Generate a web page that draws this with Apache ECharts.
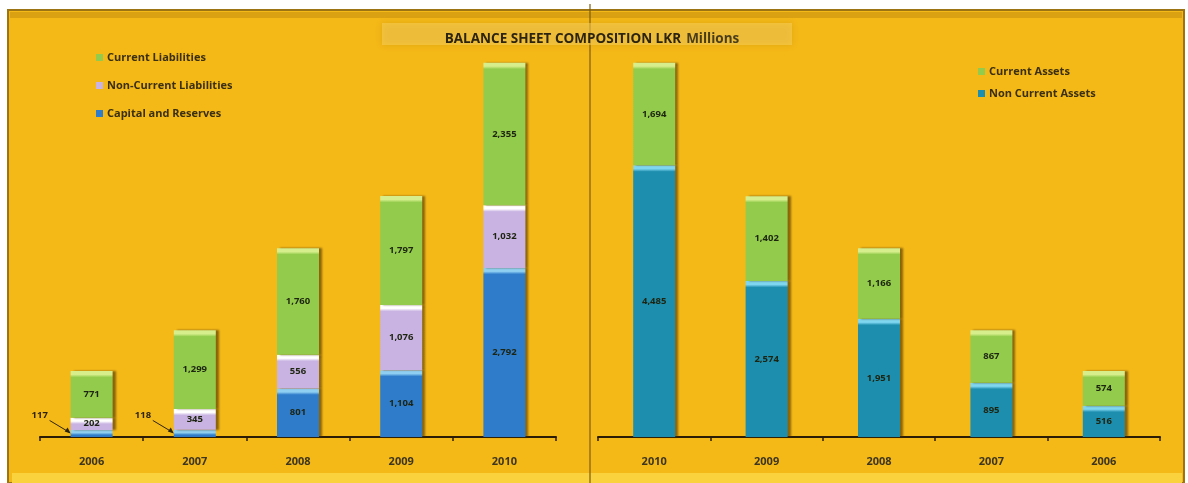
<!DOCTYPE html>
<html>
<head>
<meta charset="utf-8">
<script src="https://cdn.jsdelivr.net/npm/echarts@6/dist/echarts.min.js"></script>
<style>
  html, body { margin: 0; padding: 0; background: #ffffff; }
  #chart { width: 1188px; height: 483px; }
</style>
</head>
<body>
<div id="chart"></div>
<script>
// Funding side (left panel), LKR millions
const years = ['2006', '2007', '2008', '2009', '2010'];
const currentLiabilities = [771, 1299, 1760, 1797, 2355];
const nonCurrentLiabilities = [202, 345, 556, 1076, 1032];
const capitalReserves = [117, 118, 801, 1104, 2792];

// Asset side (right panel), LKR millions, newest year first
const assetYears = ['2010', '2009', '2008', '2007', '2006'];
const currentAssets = [1694, 1402, 1166, 867, 574];
const nonCurrentAssets = [4485, 2574, 1951, 895, 516];

// Capital values too small to label inside their bars get a pointer label
const pointerLabelIdx = [0, 1];

const FONT = '"Open Sans", Lato, sans-serif';
const fmt = v => v.toLocaleString('en-US');

// Segment fill: flat colour with a thin highlight band along its top edge
function barFill(light, base, frac) {
  const f = Math.max(0.005, Math.min(0.4, frac));
  return new echarts.graphic.LinearGradient(0, 0, 0, 1, [
    { offset: 0, color: light },
    { offset: f, color: light },
    { offset: Math.min(1, f * 1.8), color: base },
    { offset: 1, color: base }
  ]);
}

const shadow = {
  shadowColor: 'rgba(70, 45, 0, 0.6)',
  shadowBlur: 2,
  shadowOffsetX: 3,
  shadowOffsetY: 0
};

const innerLabel = {
  show: true,
  position: 'inside',
  fontFamily: FONT,
  fontSize: 9.5,
  fontWeight: 'bold',
  color: '#1d2410',
  formatter: p => fmt(p.value)
};

const colors = {
  cl: '#93CC4C', clLight: '#D6EE8C',
  ncl: '#C9B3E2', nclLight: '#FFFFFF',
  cap: '#2F7CCB', capLight: '#8FD0F2',
  ca: '#93CC4C', caLight: '#D6EE8C',
  nca: '#1E8EAE', ncaLight: '#7FD6F0'
};

const chart = echarts.init(document.getElementById('chart'), null, { renderer: 'canvas' });

function xAxisCfg(gridIndex, data) {
  return {
    type: 'category',
    gridIndex: gridIndex,
    data: data,
    axisLine: { show: true, lineStyle: { color: '#2b1d05', width: 2 } },
    axisTick: { show: true, length: 4, lineStyle: { color: '#2b1d05', width: 1.5 } },
    axisLabel: {
      margin: 19, fontFamily: FONT, fontSize: 11, fontWeight: 'bold', color: '#3c3520'
    },
    splitLine: { show: false }
  };
}

function yAxisCfg(gridIndex) {
  return {
    type: 'value',
    gridIndex: gridIndex,
    min: 0,
    max: 7000,
    show: false,
    splitLine: { show: false }
  };
}

const seriesDefs = [
  { name: 'Capital and Reserves', stack: 'funding', axis: 0, cats: years, values: capitalReserves, light: colors.capLight, base: colors.cap },
  { name: 'Non-Current Liabilities', stack: 'funding', axis: 0, cats: years, values: nonCurrentLiabilities, light: colors.nclLight, base: colors.ncl },
  { name: 'Current Liabilities', stack: 'funding', axis: 0, cats: years, values: currentLiabilities, light: colors.clLight, base: colors.cl },
  { name: 'Non Current Assets', stack: 'assets', axis: 1, cats: assetYears, values: nonCurrentAssets, light: colors.ncaLight, base: colors.nca },
  { name: 'Current Assets', stack: 'assets', axis: 1, cats: assetYears, values: currentAssets, light: colors.caLight, base: colors.ca }
];

function buildSeries(segHeights) {
  return seriesDefs.map((d, si) => ({
    name: d.name,
    type: 'bar',
    stack: d.stack,
    xAxisIndex: d.axis,
    yAxisIndex: d.axis,
    barWidth: 42,
    itemStyle: Object.assign({ color: d.base }, shadow),
    label: innerLabel,
    data: d.values.map((v, i) => {
      const item = { value: v };
      const h = segHeights ? segHeights[si][i] : 100;
      item.itemStyle = { color: barFill(d.light, d.base, 3.5 / Math.max(h, 1)) };
      if (si === 0 && pointerLabelIdx.includes(i)) item.label = { show: false };
      return item;
    })
  }));
}

const baseGraphic = [
  { type: 'rect', z: -10, shape: { x: 8, y: 10, width: 1176, height: 473 },
    style: { fill: '#F4B817', stroke: '#9C7414', lineWidth: 2 } },
  { type: 'rect', z: -9, shape: { x: 10, y: 12, width: 1172, height: 6 },
    style: { fill: 'rgba(170,120,10,0.35)' } },
  { type: 'rect', z: -9, shape: { x: 12, y: 473, width: 1170, height: 10 },
    style: { fill: '#F9D23E' } },
  { type: 'line', z: -8, shape: { x1: 590, y1: 4, x2: 590, y2: 483 },
    style: { stroke: '#7d5d12', lineWidth: 1.2 } },
  { type: 'rect', z: -7, shape: { x: 382, y: 23, width: 410, height: 22 },
    style: { fill: 'rgba(250,212,100,0.5)', shadowColor: 'rgba(160,110,0,0.45)', shadowBlur: 6 } }
];

const legendText = { fontFamily: FONT, fontSize: 11, fontWeight: 'bold', color: '#3a2f12', padding: [0, 0, 0, -1] };

const option = {
  animation: false,
  backgroundColor: '#ffffff',
  graphic: baseGraphic,
  title: {
    text: '{b|BALANCE SHEET COMPOSITION LKR} {n|Millions}',
    left: 587,
    top: 25,
    textAlign: 'center',
    textStyle: {
      rich: {
        b: { fontFamily: FONT, fontSize: 13.5, fontWeight: 'bold', color: '#2d2410' },
        n: { fontFamily: FONT, fontSize: 13.5, fontWeight: 'bold', color: '#4a3d1c' }
      }
    }
  },
  legend: [
    {
      orient: 'vertical',
      left: 91,
      top: 47,
      itemGap: 17,
      itemWidth: 7,
      itemHeight: 7,
      icon: 'rect',
      textStyle: legendText,
      data: ['Current Liabilities', 'Non-Current Liabilities', 'Capital and Reserves']
    },
    {
      orient: 'vertical',
      left: 973,
      top: 61,
      itemGap: 11,
      itemWidth: 7,
      itemHeight: 7,
      icon: 'rect',
      textStyle: legendText,
      data: ['Current Assets', 'Non Current Assets']
    }
  ],
  grid: [
    { left: 40, width: 516, top: 13, bottom: 46 },
    { left: 598, width: 562, top: 13, bottom: 46 }
  ],
  xAxis: [xAxisCfg(0, years), xAxisCfg(1, assetYears)],
  yAxis: [yAxisCfg(0), yAxisCfg(1)],
  series: buildSeries(null)
};

chart.setOption(option);

// Measure each segment's pixel height through the axes, so the highlight band stays thin
const segHeights = seriesDefs.map(d => d.values.map((v, i) => {
  const a = chart.convertToPixel({ xAxisIndex: d.axis, yAxisIndex: d.axis }, [d.cats[i], 0]);
  const b = chart.convertToPixel({ xAxisIndex: d.axis, yAxisIndex: d.axis }, [d.cats[i], v]);
  return Math.abs(a[1] - b[1]);
}));

// Pointer labels with arrows for the thin capital segments
const extra = [];
pointerLabelIdx.forEach(i => {
  const top = chart.convertToPixel({ xAxisIndex: 0, yAxisIndex: 0 }, [years[i], capitalReserves[i]]);
  const base = chart.convertToPixel({ xAxisIndex: 0, yAxisIndex: 0 }, [years[i], 0]);
  const tipX = top[0] - 22;
  const tipY = (top[1] + base[1]) / 2 - 1;
  const startX = tipX - 20;
  const startY = tipY - 12;
  extra.push(
    { type: 'text', z: 20, x: startX - 18, y: startY - 10,
      style: { text: fmt(capitalReserves[i]), fontFamily: FONT, fontSize: 9.5, fontWeight: 'bold', fill: '#2d2410' } },
    { type: 'line', z: 20, shape: { x1: startX, y1: startY, x2: tipX, y2: tipY },
      style: { stroke: '#2d2410', lineWidth: 1 } },
    { type: 'polygon', z: 20,
      shape: { points: [[tipX + 1, tipY + 1], [tipX - 5, tipY - 1], [tipX - 2, tipY - 5]] },
      style: { fill: '#2d2410' } }
  );
});

chart.setOption({ series: buildSeries(segHeights), graphic: baseGraphic.concat(extra) });
</script>
</body>
</html>
